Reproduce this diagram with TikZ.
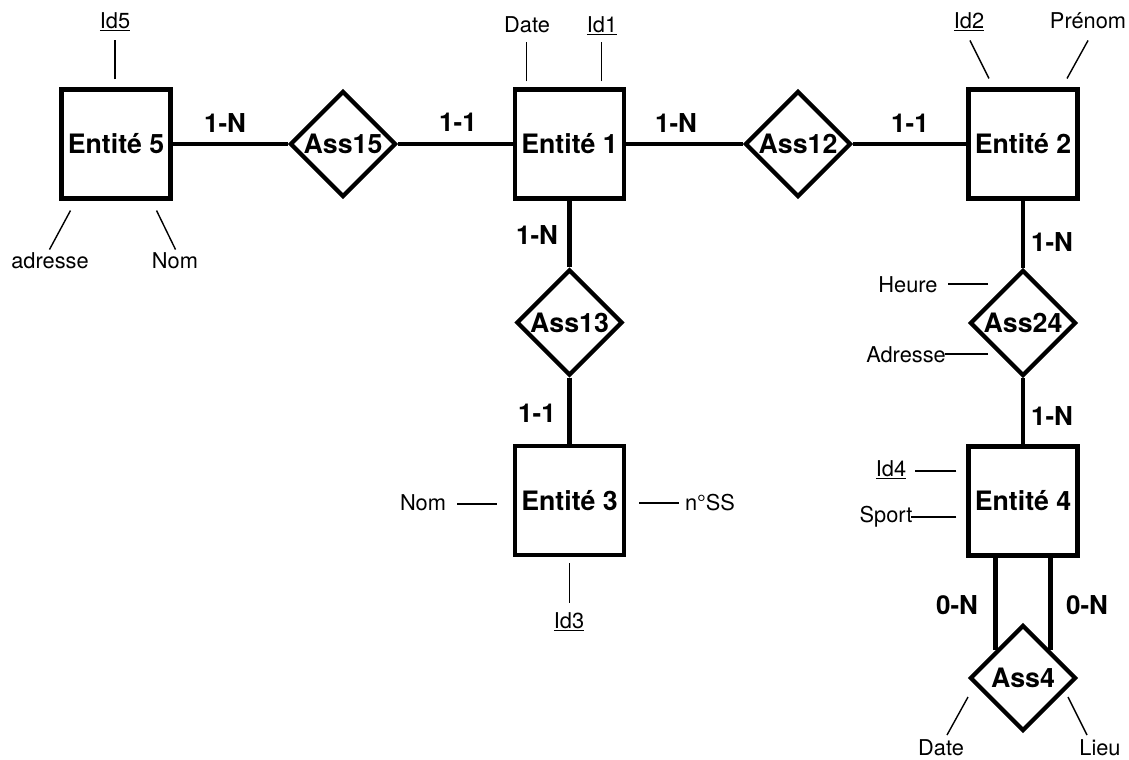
\documentclass[tikz,border=0pt]{standalone}
\usepackage{fontspec}
\setmainfont{TeX Gyre Heros}
\usetikzlibrary{shapes.geometric}

\tikzset{
  entite/.style={draw, line width=3pt, minimum width=2.72cm, minimum height=2.72cm,
    inner sep=0pt, font=\fontsize{19}{22}\selectfont\bfseries},
  assoc/.style={draw, diamond, aspect=1, line width=3pt, minimum width=2.65cm,
    minimum height=2.65cm, inner sep=0pt, font=\fontsize{19}{22}\selectfont\bfseries},
  lien/.style={line width=3pt},
  card/.style={font=\fontsize{18.5}{21}\selectfont\bfseries},
  attr/.style={line width=1pt},
  attrtxt/.style={font=\fontsize{15.5}{18}\selectfont, inner sep=0pt, anchor=base},
}

\begin{document}
\begin{tikzpicture}[x=0.025cm,y=-0.025cm]
        \useasboundingbox (0,0) rectangle (1129,759);

        % entites
        \node[entite] (e5) at (116,144) {Entité 5};
        \node[entite] (e1) at (569.5,144) {Entité 1};
        \node[entite] (e2) at (1023,144) {Entité 2};
        \node[entite] (e3) at (569.5,500.5) {Entité 3};
        \node[entite] (e4) at (1023,501) {Entité 4};

        % associations
        \node[assoc] (ass15) at (343,144) {Ass15};
        \node[assoc] (ass12) at (798,144) {Ass12};
        \node[assoc] (ass13) at (569.5,322.5) {Ass13};
        \node[assoc] (ass24) at (1023,323) {Ass24};
        \node[assoc] (ass4) at (1023,678) {Ass4};

        % liens
        \draw[lien] (e5) -- (ass15) -- (e1) -- (ass12) -- (e2);
        \draw[lien] (e1) -- (ass13) -- (e3);
        \draw[lien] (e2) -- (ass24) -- (e4);
        \draw[lien] (e4.south -| ass4.north west) -- (ass4.north west);
        \draw[lien] (e4.south -| ass4.north east) -- (ass4.north east);

        % cardinalites
        \node[card] (c1) at (225,123) {1-N};
        \node[card] (c2) at (458,122) {1-1};
        \node[card] (c3) at (676,123) {1-N};
        \node[card] (c4) at (910,123) {1-1};
        \node[card] (c5) at (537,235) {1-N};
        \node[card] (c6) at (537,413) {1-1};
        \node[card] (c7) at (1052,242) {1-N};
        \node[card] (c8) at (1052,416) {1-N};
        \node[card] (c9) at (957,605) {0-N};
        \node[card] (c10) at (1087,605) {0-N};

        % attributs entite 5
        \node[attrtxt] (id5) at (115,28) {\underline{Id5}};
        \node[attrtxt] (adr5) at (50,268) {adresse};
        \node[attrtxt] (nom5) at (175,268) {Nom};
        \draw[attr] ([shift={(-1,-8)}]e5.north) -- ([shift={(-1,-47)}]e5.north);
        \draw[attr] ([shift={(11,10)}]e5.south west) -- ([shift={(-10,49)}]e5.south west);
        \draw[attr] ([shift={(-16,10)}]e5.south east) -- ([shift={(3,49)}]e5.south east);

        % attributs entite 1
        \node[attrtxt] (date1) at (527,32) {Date};
        \node[attrtxt] (id1) at (602,32) {\underline{Id1}};
        \draw[attr] ([shift={(-43,-6)}]e1.north) -- ([shift={(-43,-45)}]e1.north);
        \draw[attr] ([shift={(32,-6)}]e1.north) -- ([shift={(32,-45)}]e1.north);

        % attributs entite 2
        \node[attrtxt] (id2) at (969,28) {\underline{Id2}};
        \node[attrtxt] (prenom2) at (1088,28) {Prénom};
        \draw[attr] ([shift={(-53,-47)}]e2.north) -- ([shift={(-34,-9)}]e2.north);
        \draw[attr] ([shift={(65,-47)}]e2.north) -- ([shift={(44,-9)}]e2.north);

        % attributs entite 3
        \node[attrtxt] (nom3) at (423,510) {Nom};
        \node[attrtxt] (nss3) at (710,510) {n°SS};
        \node[attrtxt] (id3) at (569,628) {\underline{Id3}};
        \draw[attr] ([shift={(-16,3.5)}]e3.west) -- ([shift={(-56,3.5)}]e3.west);
        \draw[attr] ([shift={(13,2.5)}]e3.east) -- ([shift={(53,2.5)}]e3.east);
        \draw[attr] ([shift={(0,6)}]e3.south) -- ([shift={(0,46)}]e3.south);

        % attributs entite 4
        \node[attrtxt] (id4) at (891,476) {\underline{Id4}};
        \node[attrtxt] (sport4) at (886,522) {Sport};
        \draw[attr] ([shift={(-10,-30)}]e4.west) -- ([shift={(-51,-30)}]e4.west);
        \draw[attr] ([shift={(-10,16)}]e4.west) -- ([shift={(-55,16)}]e4.west);

        % attributs associations
        \node[attrtxt] (heure24) at (908,292) {Heure};
        \node[attrtxt] (adr24) at (906,362) {Adresse};
        \draw[attr] ([shift={(-35,-39)}]ass24.center) -- ([shift={(-75,-39)}]ass24.center);
        \draw[attr] ([shift={(-35,31)}]ass24.center) -- ([shift={(-78,31)}]ass24.center);
        \node[attrtxt] (date4) at (941,755) {Date};
        \node[attrtxt] (lieu4) at (1100,755) {Lieu};
        \draw[attr] ([shift={(-55,19)}]ass4.center) -- ([shift={(-76,57)}]ass4.center);
        \draw[attr] ([shift={(45,19)}]ass4.center) -- ([shift={(64,57)}]ass4.center);
\end{tikzpicture}
\end{document}
